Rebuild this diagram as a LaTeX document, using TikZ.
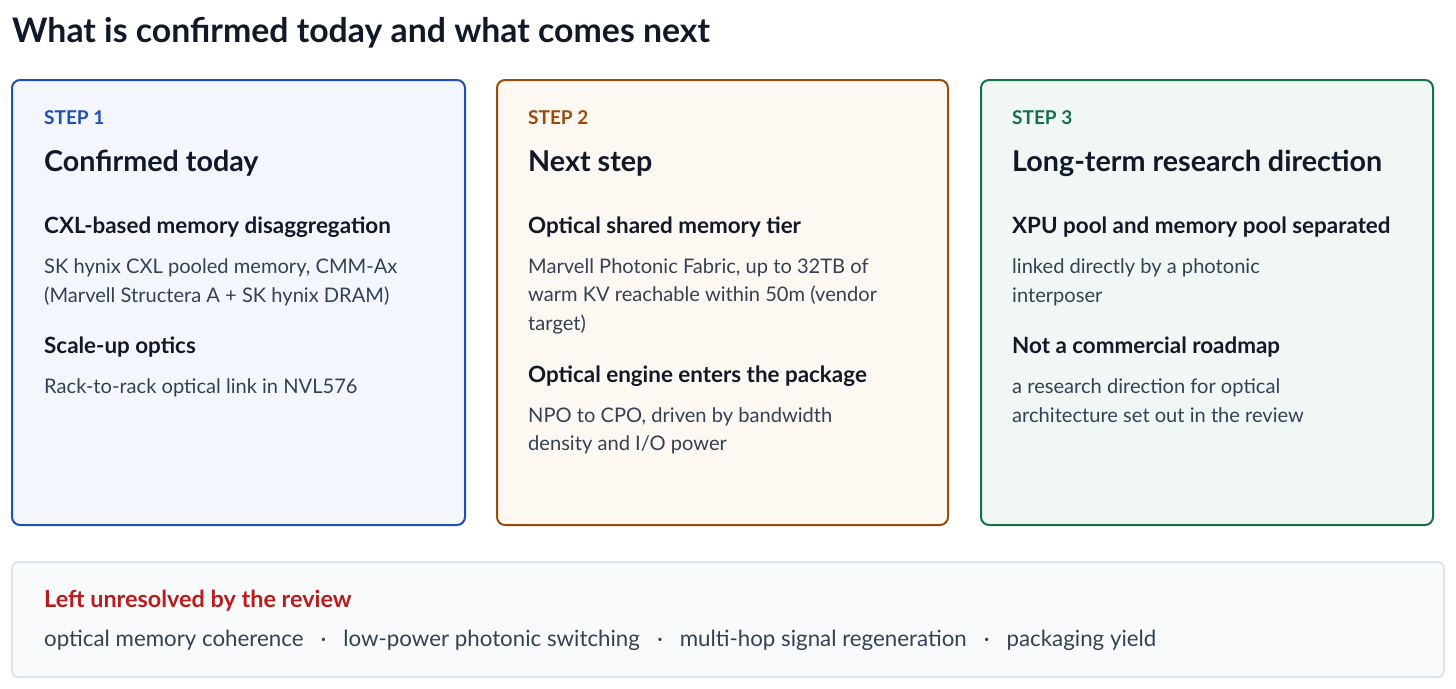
\documentclass[tikz,border=0pt]{standalone}
\usepackage{fontspec}
\setmainfont{Lato}
\definecolor{inkdark}{HTML}{111827}
\definecolor{inkbody}{HTML}{334155}
\definecolor{stepblue}{HTML}{1E4FB4}
\definecolor{stepbrown}{HTML}{9A4A0B}
\definecolor{stepgreen}{HTML}{15704A}
\definecolor{fillblue}{HTML}{F3F6FD}
\definecolor{fillbrown}{HTML}{FDF8F2}
\definecolor{fillgreen}{HTML}{F1F7F4}
\definecolor{notered}{HTML}{B91C1C}
\definecolor{notefill}{HTML}{F9FAFC}
\definecolor{noteline}{HTML}{D6DEEA}

\begin{document}
\begin{tikzpicture}[x=1pt,y=-1pt,
    every node/.style={inner sep=0pt,anchor=base west,align=left},
    card/.style={line width=2pt,rounded corners=8pt},
    steptag/.style={font=\fontsize{19}{23}\selectfont\bfseries},
    cardtitle/.style={text=inkdark,font=\fontsize{28.7}{34}\selectfont\bfseries},
    itemhead/.style={text=inkdark,font=\fontsize{22.4}{27}\selectfont\bfseries},
    itembody/.style={text=inkbody,font=\fontsize{20.1}{28.7}\selectfont}]
    \useasboundingbox (0,0) rectangle (1456,688);
    \node[text=inkdark,font=\fontsize{33.8}{40}\selectfont\bfseries] (title) at (12,42) {What is confirmed today and what comes next};
    % step 1 (multi-line nodes sit on their last baseline)
    \draw[card,draw=stepblue,fill=fillblue] (12,80) rectangle (465,525);
    \node[steptag,text=stepblue] (tagone) at (44,124) {STEP 1};
    \node[cardtitle] (titleone) at (44,171) {Confirmed today};
    \node[itemhead] (headoneA) at (44,233) {CXL-based memory disaggregation};
    \node[itembody] (bodyoneA) at (44,302) {SK hynix CXL pooled memory, CMM-Ax\\(Marvell Structera A + SK hynix DRAM)};
    \node[itemhead] (headoneB) at (44,353) {Scale-up optics};
    \node[itembody] (bodyoneB) at (44,393) {Rack-to-rack optical link in NVL576};
    % step 2
    \draw[card,draw=stepbrown,fill=fillbrown] (497,80) rectangle (948,525);
    \node[steptag,text=stepbrown] (tagtwo) at (528,124) {STEP 2};
    \node[cardtitle] (titletwo) at (528,171) {Next step};
    \node[itemhead] (headtwoA) at (528,233) {Optical shared memory tier};
    \node[itembody] (bodytwoA) at (528,330.4) {Marvell Photonic Fabric, up to 32TB of\\warm KV reachable within 50m (vendor\\target)};
    \node[itemhead] (headtwoB) at (528,382) {Optical engine enters the package};
    \node[itembody] (bodytwoB) at (528,450.7) {NPO to CPO, driven by bandwidth\\density and I/O power};
    % step 3
    \draw[card,draw=stepgreen,fill=fillgreen] (981,80) rectangle (1433,525);
    \node[steptag,text=stepgreen] (tagthree) at (1012,124) {STEP 3};
    \node[cardtitle] (titlethree) at (1012,171) {Long-term research direction};
    \node[itemhead] (headthreeA) at (1012,233) {XPU pool and memory pool separated};
    \node[itembody] (bodythreeA) at (1012,302) {linked directly by a photonic\\interposer};
    \node[itemhead] (headthreeB) at (1012,353) {Not a commercial roadmap};
    \node[itembody] (bodythreeB) at (1012,422) {a research direction for optical\\architecture set out in the review};
    % open issues
    \draw[line width=1.5pt,draw=noteline,fill=notefill,rounded corners=6pt] (12,562) rectangle (1444,677);
    \node[text=notered,font=\fontsize{23.4}{28}\selectfont\bfseries] (openhead) at (44,607) {Left unresolved by the review};
    \node[text=inkbody,font=\fontsize{22.3}{27}\selectfont] (openlist) at (44,646) {optical memory coherence\hspace{17pt}·\hspace{17pt}low-power photonic switching\hspace{17pt}·\hspace{17pt}multi-hop signal regeneration\hspace{17pt}·\hspace{17pt}packaging yield};
\end{tikzpicture}
\end{document}
